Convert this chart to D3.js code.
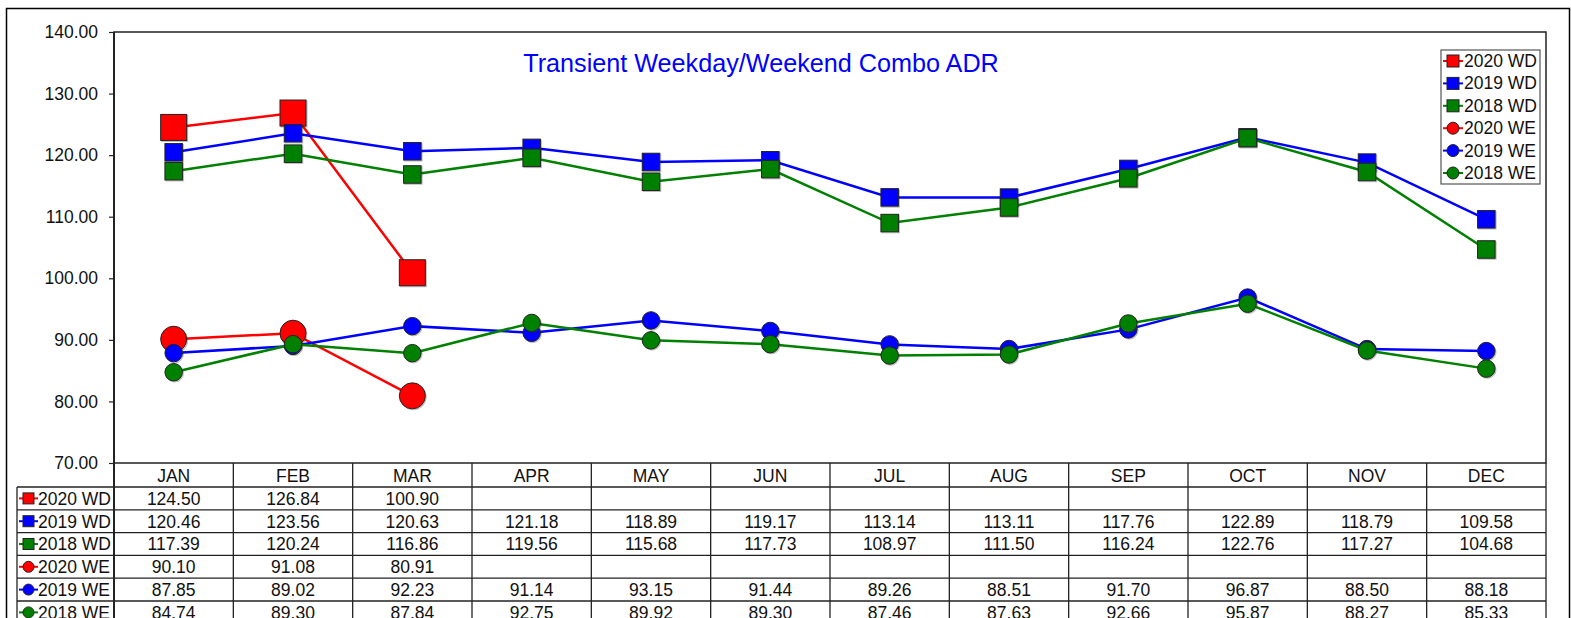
<!DOCTYPE html>
<html>
<head>
<meta charset="utf-8">
<script src="https://cdn.jsdelivr.net/npm/d3@7"></script>
<style>
  html, body { margin: 0; padding: 0; background: #fff; }
  svg { display: block; font-family: Arial, "Liberation Sans", sans-serif; }
</style>
</head>
<body>
<svg id="chart" width="1571" height="618"></svg>
<script>
// Monthly transient ADR, weekday (WD) and weekend (WE), by year
const months = ["JAN","FEB","MAR","APR","MAY","JUN","JUL","AUG","SEP","OCT","NOV","DEC"];
const wd2020 = [124.50, 126.84, 100.90, null, null, null, null, null, null, null, null, null];
const wd2019 = [120.46, 123.56, 120.63, 121.18, 118.89, 119.17, 113.14, 113.11, 117.76, 122.89, 118.79, 109.58];
const wd2018 = [117.39, 120.24, 116.86, 119.56, 115.68, 117.73, 108.97, 111.50, 116.24, 122.76, 117.27, 104.68];
const we2020 = [90.10, 91.08, 80.91, null, null, null, null, null, null, null, null, null];
const we2019 = [87.85, 89.02, 92.23, 91.14, 93.15, 91.44, 89.26, 88.51, 91.70, 96.87, 88.50, 88.18];
const we2018 = [84.74, 89.30, 87.84, 92.75, 89.92, 89.30, 87.46, 87.63, 92.66, 95.87, 88.27, 85.33];
const yTicks = [70, 80, 90, 100, 110, 120, 130, 140];

const series = [
  { name: "2020 WD", values: wd2020, color: "#ff0000", shape: "square", big: true },
  { name: "2019 WD", values: wd2019, color: "#0000ff", shape: "square", big: false },
  { name: "2018 WD", values: wd2018, color: "#008000", shape: "square", big: false },
  { name: "2020 WE", values: we2020, color: "#ff0000", shape: "circle", big: true },
  { name: "2019 WE", values: we2019, color: "#0000ff", shape: "circle", big: false },
  { name: "2018 WE", values: we2018, color: "#008000", shape: "circle", big: false }
];

const svg = d3.select("#chart");
const plot = { left: 114, right: 1546, top: 32, bottom: 463 };
const rowH = 22.8, headerH = 24;
const labelColLeft = 17;
const fs = 17.5;

const x = d3.scaleBand().domain(months).range([plot.left, plot.right]);
const y = d3.scaleLinear().domain([70, 140]).range([plot.bottom, plot.top]);
const cx = m => x(m) + x.bandwidth() / 2;

// Outer chart frame
svg.append("rect")
  .attr("x", 6.5).attr("y", 8.5).attr("width", 1563).attr("height", 640)
  .attr("fill", "#fff").attr("stroke", "#000").attr("stroke-width", 1.5);

// Plot area border
svg.append("rect")
  .attr("x", plot.left).attr("y", plot.top)
  .attr("width", plot.right - plot.left).attr("height", plot.bottom - plot.top)
  .attr("fill", "none").attr("stroke", "#222").attr("stroke-width", 1.5);

// Y axis
const yAxis = d3.axisLeft(y).tickValues(yTicks).tickFormat(d3.format(".2f")).tickSize(5).tickPadding(11);
const yg = svg.append("g").attr("transform", `translate(${plot.left},0)`).call(yAxis);
yg.select(".domain").remove();
yg.selectAll(".tick line").attr("stroke", "#222").attr("stroke-width", 1.2);
yg.selectAll(".tick text").attr("font-size", fs).attr("fill", "#111")
  .attr("font-family", "Arial, 'Liberation Sans', sans-serif");
svg.append("line")
  .attr("x1", plot.left).attr("x2", plot.left)
  .attr("y1", plot.top).attr("y2", 640)
  .attr("stroke", "#222").attr("stroke-width", 2);

// Title
svg.append("text")
  .attr("x", 761).attr("y", 72)
  .attr("text-anchor", "middle").attr("font-size", 25.2).attr("fill", "#0000ff")
  .text("Transient Weekday/Weekend Combo ADR");

// Marker drawing helper
function marker(g, s, px, py, size) {
  if (s.shape === "square") {
    g.append("rect")
      .attr("x", px - size / 2).attr("y", py - size / 2)
      .attr("width", size).attr("height", size)
      .attr("fill", s.color).attr("stroke", "#222").attr("stroke-width", 1);
  } else {
    g.append("circle")
      .attr("cx", px).attr("cy", py).attr("r", size / 2)
      .attr("fill", s.color).attr("stroke", "#222").attr("stroke-width", 1);
  }
}

// Series lines and markers
const line = d3.line()
  .defined(d => d.v != null)
  .x(d => cx(d.m))
  .y(d => y(d.v));

series.forEach(s => {
  const pts = months.map((m, i) => ({ m, v: s.values[i] }));
  const g = svg.append("g");
  g.append("path")
    .attr("d", line(pts))
    .attr("fill", "none").attr("stroke", s.color).attr("stroke-width", 2.5);
  const size = s.big ? 26 : 17.5;
  pts.filter(d => d.v != null).forEach(d => {
    // soft drop shadow
    const sh = g.append("g").attr("opacity", 0.3).attr("transform", "translate(1,1)");
    marker(sh, { shape: s.shape, color: "#666" }, cx(d.m), y(d.v), size);
    marker(g, s, cx(d.m), y(d.v), size);
  });
});

// Legend
const leg = svg.append("g");
leg.append("rect")
  .attr("x", 1441).attr("y", 50).attr("width", 99).attr("height", 134)
  .attr("fill", "#fff").attr("stroke", "#555").attr("stroke-width", 1.2);
series.forEach((s, i) => {
  const ly = 61 + i * 22.4;
  leg.append("line").attr("x1", 1443).attr("x2", 1463).attr("y1", ly).attr("y2", ly)
    .attr("stroke", s.color).attr("stroke-width", 2);
  marker(leg, s, 1453, ly, 12);
  leg.append("text").attr("x", 1464).attr("y", ly + 6).attr("font-size", fs).attr("fill", "#111").text(s.name);
});

// Data table under the plot
const tbl = svg.append("g");
const tableBottom = plot.bottom + headerH + rowH * series.length;
// month header labels
months.forEach(m => {
  tbl.append("text").attr("x", cx(m)).attr("y", plot.bottom + headerH - 5)
    .attr("text-anchor", "middle").attr("font-size", fs).attr("fill", "#111").text(m);
});
// vertical cell borders between months
months.forEach((m, i) => {
  if (i === 0) return;
  tbl.append("line").attr("x1", x(m)).attr("x2", x(m))
    .attr("y1", plot.bottom).attr("y2", tableBottom)
    .attr("stroke", "#222").attr("stroke-width", 1.3);
});
tbl.append("line").attr("x1", plot.right).attr("x2", plot.right)
  .attr("y1", plot.bottom).attr("y2", tableBottom)
  .attr("stroke", "#222").attr("stroke-width", 1.3);
tbl.append("line").attr("x1", labelColLeft).attr("x2", labelColLeft)
  .attr("y1", plot.bottom + headerH).attr("y2", tableBottom)
  .attr("stroke", "#222").attr("stroke-width", 1.3);
// horizontal row borders
for (let r = 0; r <= series.length; r++) {
  const ry = plot.bottom + headerH + r * rowH;
  tbl.append("line").attr("x1", labelColLeft).attr("x2", plot.right)
    .attr("y1", ry).attr("y2", ry)
    .attr("stroke", "#222").attr("stroke-width", 1.3);
}
// row keys and values
series.forEach((s, r) => {
  const top = plot.bottom + headerH + r * rowH;
  const my = top + rowH / 2;
  tbl.append("line").attr("x1", 19).attr("x2", 38).attr("y1", my).attr("y2", my)
    .attr("stroke", s.color).attr("stroke-width", 2);
  marker(tbl, s, 28.5, my, 11);
  tbl.append("text").attr("x", 38).attr("y", top + rowH - 5)
    .attr("font-size", fs).attr("fill", "#111").text(s.name);
  months.forEach((m, i) => {
    const v = s.values[i];
    if (v == null) return;
    tbl.append("text").attr("x", cx(m)).attr("y", top + rowH - 5)
      .attr("text-anchor", "middle").attr("font-size", fs).attr("fill", "#111")
      .text(d3.format(".2f")(v));
  });
});
</script>
</body>
</html>
